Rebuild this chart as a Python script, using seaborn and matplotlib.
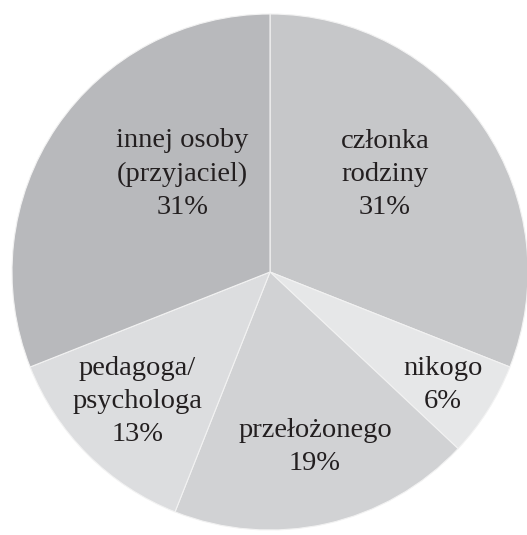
import numpy as np
import seaborn as sns
import matplotlib.pyplot as plt

# answers, clockwise from 12 o'clock
labels = ["członka\nrodziny", "nikogo", "przełożonego", "pedagoga/\npsychologa", "innej osoby\n(przyjaciel)"]
shares = [31, 6, 19, 13, 31]
colors = ["#c6c7c9", "#e6e7e8", "#d1d2d4", "#dcdddf", "#b8b9bc"]

# where each label block sits: (fraction of radius, angle in degrees)
label_pos = [(0.585, 40.4), (0.80, -33.2), (0.70, -75.6), (0.72, -135.7), (0.51, 131.9)]

sns.set_theme(style="white")
plt.rcParams["font.family"] = ["Liberation Serif", "DejaVu Serif"]

fig = plt.figure(figsize=(5.27, 5.35), dpi=100)
ax = fig.add_axes([12 / 527, 5 / 535, 516 / 527, 516 / 535])

ax.pie(shares, colors=colors, startangle=90, counterclock=False,
       wedgeprops=dict(edgecolor="#f2f2f2", linewidth=0.8))

for lab, val, (r, ang) in zip(labels, shares, label_pos):
    x = r * np.cos(np.radians(ang))
    y = r * np.sin(np.radians(ang))
    ax.text(x, y, f"{lab}\n{val}%", ha="center", va="center",
            fontsize=20.5, color="#231f20", linespacing=1.42)

ax.set_xlim(-1, 1)
ax.set_ylim(-1, 1)
ax.set_aspect("equal")
ax.axis("off")

fig.savefig("out.png", dpi=100)
